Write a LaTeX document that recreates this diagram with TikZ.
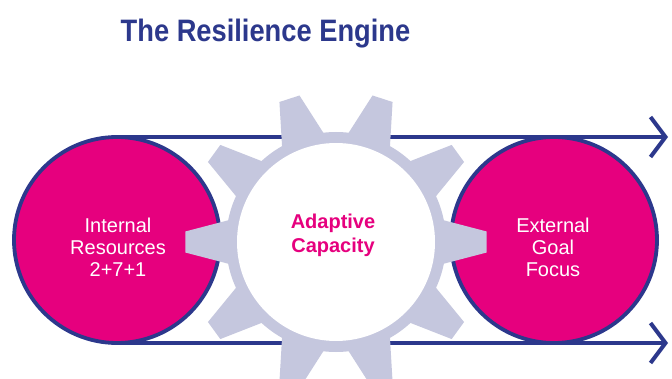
\documentclass[tikz,border=0pt]{standalone}
\usepackage{fontspec}
\setmainfont{Liberation Sans}
\usetikzlibrary{arrows.meta,positioning}
\definecolor{engineblue}{RGB}{44,56,140}
\definecolor{enginepink}{RGB}{230,0,126}
\definecolor{geargrey}{RGB}{197,199,222}
\tikzstyle{wheel} = [circle, draw=engineblue, line width=3.8pt, fill=enginepink, minimum size=206pt, inner sep=0pt, outer sep=0pt]
\tikzstyle{belt} = [draw=engineblue, line width=4pt, -{Straight Barb[length=15pt,width=40pt]}]
\tikzstyle{wheeltext} = [text=white, align=center, font=\fontsize{20}{22}\selectfont]

\begin{document}
\begin{tikzpicture}[x=1pt,y=-1pt]
    \useasboundingbox[fill=white] (0,0) rectangle (672,379);
    \node[anchor=base, text=engineblue, font=\fontsize{31}{36}\selectfont\bfseries] (title) at (265.5,42) {\scalebox{0.88}[1]{The Resilience Engine}};

    \node[wheel] (inner) at (117,240) {};
    \node[wheel] (outer) at (554,240) {};

    \coordinate (endtop) at (668,0);
    \draw[belt] (inner.north) -- (inner.north -| endtop);
    \draw[belt] (inner.south) -- (inner.south -| endtop);

    % the gear
    \begin{scope}[shift={(336,242)}]
    \fill[geargrey] (0,0) circle (110);
    \foreach \a in {0,36,...,324}
        \fill[geargrey] (\a-13:104) -- (\a-4:151) -- (\a+4:151) -- (\a+13:104) -- cycle;
    \end{scope}
    \node[circle, fill=white, minimum size=198pt, inner sep=0pt] (hub) at (336,242) {};

    \node[wheeltext] (resources) at (118,247) {Internal\\Resources\\2+7+1};
    \node[text=enginepink, align=center, font=\fontsize{20}{24}\selectfont\bfseries] (adaptive) at (333,235) {Adaptive\\Capacity};
    \node[wheeltext] (goal) at (553,247) {External\\Goal\\Focus};
\end{tikzpicture}
\end{document}
